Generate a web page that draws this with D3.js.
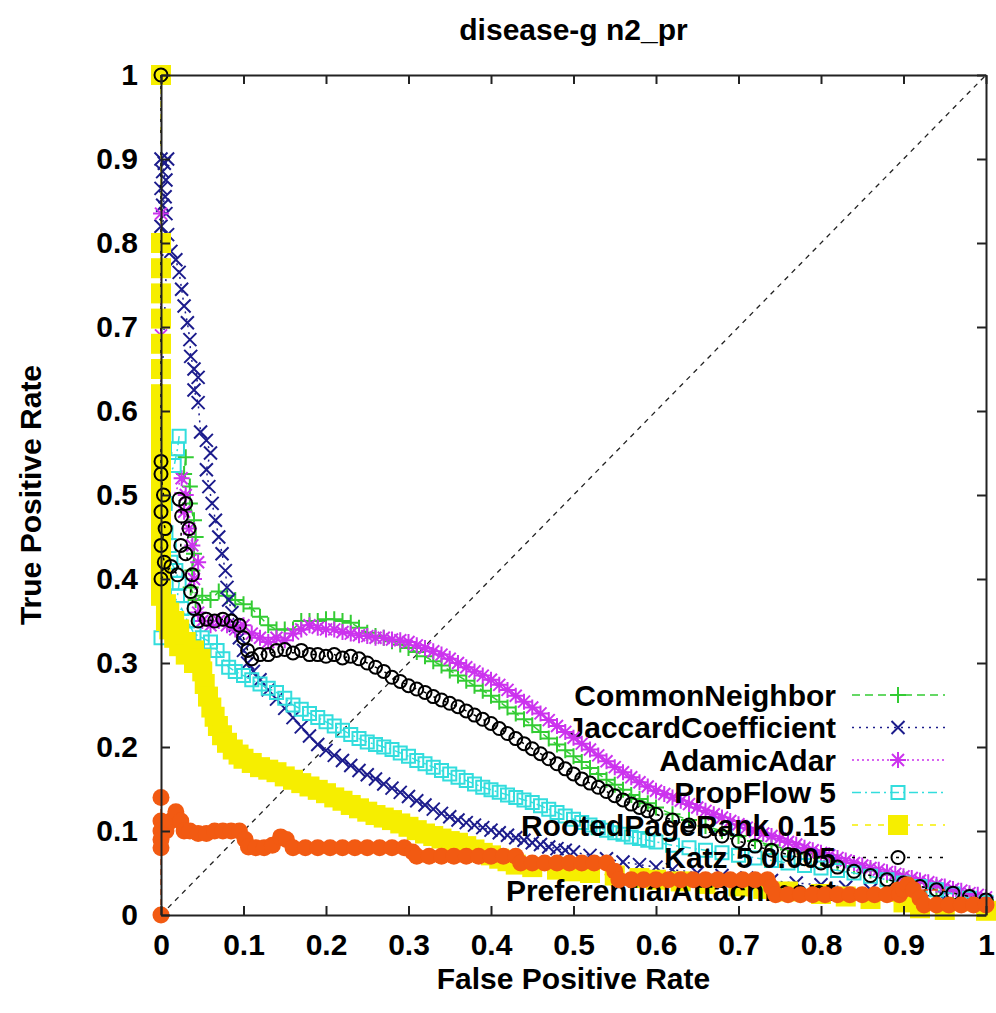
<!DOCTYPE html>
<html>
<head>
<meta charset="utf-8">
<script src="https://cdn.jsdelivr.net/npm/d3@7"></script>
<style>
body { margin: 0; background: #fff; }
svg text { font-family: "Liberation Sans", Arial, Helvetica, sans-serif; font-weight: bold; fill: #000; }
</style>
</head>
<body>
<div id="chart"></div>
<script>
var w = 996,
    h = 1013;

// ---- data ----
var titleText = "disease-g n2_pr";
var xLabel = "False Positive Rate";
var yLabel = "True Positive Rate";

var xTicks = [0, 0.1, 0.2, 0.3, 0.4, 0.5, 0.6, 0.7, 0.8, 0.9, 1];
var xTickLabels = ["0", "0.1", "0.2", "0.3", "0.4", "0.5", "0.6", "0.7", "0.8", "0.9", "1"];
var yTicks = [0, 0.1, 0.2, 0.3, 0.4, 0.5, 0.6, 0.7, 0.8, 0.9, 1];
var yTickLabels = ["0", "0.1", "0.2", "0.3", "0.4", "0.5", "0.6", "0.7", "0.8", "0.9", "1"];

var seriesNames = ["CommonNeighbor", "JaccardCoefficient", "AdamicAdar", "PropFlow 5",
                   "RootedPageRank 0.15", "Katz 5 0.005", "PreferentialAttachment"];

var diagonal = [[0, 0], [1, 1]];

var commonNeighbor = [[0,0.6],[0,0.585],[0,0.565],[0.004,0.55],[0.03,0.545],[0.028,0.525],[0.035,0.51],[0.035,0.49],
  [0.04,0.47],[0.042,0.45],[0.04,0.43],[0.038,0.41],[0.036,0.39],[0.042,0.375],[0.05,0.38],[0.06,0.375],[0.07,0.385],
  [0.08,0.38],[0.09,0.375],[0.1,0.37],[0.11,0.365],[0.12,0.355],[0.13,0.345],[0.14,0.34],[0.15,0.34],[0.16,0.34],
  [0.17,0.35],[0.18,0.35],[0.19,0.35],[0.2,0.352],[0.21,0.352],[0.22,0.35],[0.23,0.348],[0.24,0.342],[0.25,0.336],
  [0.26,0.332],[0.27,0.33],[0.28,0.326],[0.29,0.322],[0.3,0.318],[0.31,0.313],[0.32,0.308],[0.33,0.302],[0.34,0.297],
  [0.35,0.291],[0.36,0.285],[0.37,0.279],[0.38,0.273],[0.39,0.267],[0.4,0.261],[0.41,0.254],[0.42,0.247],[0.43,0.24],
  [0.44,0.233],[0.45,0.226],[0.46,0.218],[0.47,0.21],[0.48,0.203],[0.49,0.196],[0.5,0.189],[0.51,0.182],[0.52,0.175],
  [0.53,0.168],[0.54,0.161],[0.55,0.155],[0.56,0.149],[0.57,0.143],[0.58,0.138],[0.59,0.133],[0.6,0.128],[0.62,0.12],
  [0.64,0.113],[0.66,0.106],[0.68,0.1],[0.7,0.094],[0.72,0.088],[0.74,0.083],[0.76,0.078],[0.78,0.073],[0.8,0.068],
  [0.82,0.063],[0.84,0.058],[0.86,0.053],[0.88,0.048],[0.9,0.043],[0.92,0.038],[0.94,0.033],[0.96,0.028],[0.98,0.023],[1,0.018]];

var jaccardCoefficient = [[0,0.9],[0.004,0.895],[0.008,0.9],[0.002,0.885],[0.006,0.875],[0,0.865],[0.005,0.855],
  [0.002,0.845],[0.006,0.835],[0,0.82],[0.004,0.8],[0,0.77],[0,0.6],[0.008,0.81],[0.012,0.79],[0.018,0.78],[0.022,0.765],
  [0.025,0.745],[0.028,0.725],[0.032,0.705],[0.035,0.685],[0.036,0.665],[0.04,0.65],[0.045,0.64],[0.04,0.625],[0.045,0.61],
  [0.048,0.575],[0.055,0.565],[0.06,0.55],[0.055,0.53],[0.058,0.51],[0.062,0.49],[0.066,0.47],[0.07,0.45],[0.074,0.43],
  [0.078,0.41],[0.08,0.39],[0.082,0.375],[0.086,0.36],[0.09,0.345],[0.095,0.33],[0.1,0.315],[0.105,0.3],[0.112,0.29],
  [0.12,0.28],[0.13,0.268],[0.14,0.257],[0.15,0.246],[0.16,0.235],[0.17,0.224],[0.18,0.213],[0.19,0.203],[0.2,0.196],
  [0.21,0.19],[0.22,0.184],[0.23,0.178],[0.24,0.172],[0.25,0.167],[0.26,0.162],[0.27,0.156],[0.28,0.151],[0.29,0.146],
  [0.3,0.141],[0.31,0.136],[0.32,0.131],[0.33,0.126],[0.34,0.121],[0.35,0.117],[0.36,0.113],[0.37,0.11],[0.38,0.107],
  [0.39,0.104],[0.4,0.101],[0.41,0.098],[0.42,0.095],[0.43,0.092],[0.44,0.089],[0.45,0.086],[0.46,0.084],[0.47,0.081],
  [0.48,0.079],[0.49,0.077],[0.5,0.075],[0.52,0.071],[0.54,0.067],[0.56,0.063],[0.58,0.06],[0.6,0.057],[0.62,0.054],
  [0.65,0.05],[0.68,0.047],[0.71,0.044],[0.74,0.041],[0.77,0.038],[0.8,0.036],[0.83,0.033],[0.86,0.03],[0.89,0.027],
  [0.92,0.024],[0.95,0.021],[0.98,0.018],[1,0.016]];

var adamicAdar = [[0,0.835],[0,0.69],[0,0.505],[0.004,0.485],[0,0.465],[0.025,0.52],[0.03,0.5],[0.028,0.48],[0.034,0.46],
  [0.038,0.44],[0.045,0.42],[0.04,0.4],[0.045,0.36],[0.05,0.35],[0.06,0.345],[0.07,0.35],[0.08,0.345],[0.09,0.34],
  [0.1,0.345],[0.11,0.335],[0.12,0.33],[0.13,0.325],[0.14,0.33],[0.15,0.327],[0.16,0.335],[0.17,0.34],[0.18,0.345],
  [0.19,0.342],[0.2,0.34],[0.21,0.34],[0.22,0.337],[0.23,0.335],[0.24,0.333],[0.25,0.332],[0.26,0.33],[0.27,0.33],
  [0.28,0.328],[0.29,0.327],[0.3,0.325],[0.31,0.321],[0.32,0.318],[0.33,0.314],[0.34,0.31],[0.35,0.305],[0.36,0.3],
  [0.37,0.295],[0.38,0.29],[0.39,0.285],[0.4,0.28],[0.41,0.274],[0.42,0.268],[0.43,0.261],[0.44,0.254],[0.45,0.247],
  [0.46,0.24],[0.47,0.232],[0.48,0.225],[0.49,0.218],[0.5,0.211],[0.51,0.204],[0.52,0.197],[0.53,0.19],[0.54,0.183],
  [0.55,0.176],[0.56,0.17],[0.57,0.164],[0.58,0.158],[0.59,0.153],[0.6,0.148],[0.61,0.144],[0.62,0.14],[0.63,0.136],
  [0.64,0.132],[0.65,0.128],[0.66,0.124],[0.67,0.12],[0.68,0.116],[0.69,0.112],[0.7,0.108],[0.71,0.104],[0.72,0.1],
  [0.73,0.097],[0.74,0.094],[0.75,0.091],[0.76,0.087],[0.77,0.084],[0.78,0.08],[0.79,0.077],[0.8,0.074],[0.81,0.071],
  [0.82,0.068],[0.83,0.065],[0.84,0.062],[0.85,0.059],[0.86,0.056],[0.87,0.054],[0.88,0.051],[0.89,0.049],[0.9,0.046],
  [0.91,0.044],[0.92,0.041],[0.93,0.039],[0.94,0.036],[0.95,0.034],[0.96,0.031],[0.97,0.029],[0.98,0.026],[0.99,0.024],[1,0.021]];

var propFlow = [[0.022,0.57],[0.02,0.555],[0.016,0.535],[0,0.505],[0.005,0.49],[0,0.47],[0.006,0.455],[0.01,0.44],
  [0.012,0.42],[0.018,0.41],[0.022,0.395],[0.02,0.38],[0,0.33],[0.025,0.365],[0.032,0.35],[0.04,0.335],[0.05,0.33],
  [0.06,0.325],[0.068,0.315],[0.075,0.305],[0.082,0.295],[0.09,0.29],[0.1,0.285],[0.11,0.28],[0.12,0.275],[0.13,0.27],
  [0.14,0.265],[0.15,0.258],[0.16,0.25],[0.17,0.245],[0.18,0.24],[0.19,0.235],[0.2,0.23],[0.21,0.225],[0.22,0.22],
  [0.23,0.215],[0.24,0.21],[0.25,0.206],[0.26,0.203],[0.27,0.2],[0.28,0.197],[0.29,0.193],[0.3,0.189],[0.31,0.184],
  [0.32,0.18],[0.33,0.176],[0.34,0.172],[0.35,0.168],[0.36,0.164],[0.37,0.16],[0.38,0.156],[0.39,0.152],[0.4,0.149],
  [0.41,0.146],[0.42,0.143],[0.43,0.14],[0.44,0.137],[0.45,0.134],[0.46,0.13],[0.47,0.126],[0.48,0.122],[0.49,0.118],
  [0.5,0.114],[0.51,0.11],[0.52,0.107],[0.53,0.104],[0.54,0.101],[0.55,0.098],[0.56,0.096],[0.57,0.093],[0.58,0.091],
  [0.59,0.089],[0.6,0.087],[0.62,0.083],[0.64,0.08],[0.66,0.077],[0.68,0.074],[0.7,0.071],[0.72,0.068],[0.74,0.065],
  [0.76,0.062],[0.78,0.059],[0.8,0.056],[0.82,0.053],[0.84,0.05],[0.86,0.046],[0.88,0.042],[0.9,0.038],[0.92,0.034],
  [0.94,0.03],[0.96,0.025],[0.98,0.02],[1,0.015]];

var rootedPageRank = [[0,1],[0,0.8],[0,0.77],[0,0.74],[0,0.71],[0,0.68],[0,0.65],[0,0.62],[0,0.6],[0,0.58],[0,0.56],
  [0,0.54],[0,0.52],[0,0.5],[0,0.48],[0,0.46],[0,0.44],[0,0.42],[0,0.4],[0,0.38],[0.006,0.37],[0.006,0.35],[0.01,0.36],
  [0.01,0.34],[0.016,0.35],[0.016,0.33],[0.022,0.34],[0.022,0.32],[0.03,0.325],[0.03,0.31],[0.04,0.315],[0.04,0.3],
  [0.048,0.305],[0.05,0.29],[0.053,0.275],[0.057,0.26],[0.061,0.247],[0.065,0.236],[0.069,0.225],[0.074,0.214],
  [0.08,0.205],[0.087,0.197],[0.094,0.191],[0.1,0.186],[0.11,0.181],[0.12,0.176],[0.13,0.173],[0.14,0.17],[0.15,0.165],
  [0.16,0.161],[0.17,0.157],[0.18,0.153],[0.19,0.149],[0.2,0.145],[0.21,0.14],[0.22,0.136],[0.23,0.131],[0.24,0.127],
  [0.25,0.123],[0.26,0.119],[0.27,0.116],[0.28,0.113],[0.29,0.109],[0.3,0.105],[0.31,0.101],[0.32,0.097],[0.33,0.094],
  [0.34,0.091],[0.35,0.088],[0.36,0.086],[0.37,0.082],[0.38,0.078],[0.39,0.074],[0.4,0.071],[0.41,0.067],[0.42,0.064],
  [0.43,0.06],[0.45,0.057],[0.48,0.054],[0.5,0.052],[0.52,0.05],[0.55,0.047],[0.58,0.044],[0.6,0.042],[0.63,0.04],
  [0.66,0.037],[0.7,0.034],[0.73,0.031],[0.76,0.028],[0.8,0.025],[0.83,0.022],[0.86,0.019],[0.9,0.015],[0.92,0.008],
  [0.95,0.006],[1,0.005]];

var katz = [[0,1],[0,0.54],[0,0.525],[0.003,0.5],[0,0.48],[0.005,0.46],[0,0.44],[0.004,0.42],[0,0.4],[0.012,0.415],
  [0.02,0.405],[0.024,0.44],[0.025,0.475],[0.022,0.495],[0.03,0.49],[0.034,0.46],[0.03,0.43],[0.038,0.405],[0.036,0.385],
  [0.04,0.365],[0.045,0.35],[0.055,0.352],[0.065,0.35],[0.075,0.352],[0.085,0.35],[0.095,0.345],[0.1,0.33],[0.105,0.315],
  [0.11,0.305],[0.12,0.31],[0.13,0.31],[0.14,0.315],[0.15,0.316],[0.16,0.312],[0.17,0.315],[0.18,0.31],[0.19,0.31],
  [0.2,0.308],[0.21,0.31],[0.22,0.306],[0.23,0.308],[0.24,0.305],[0.25,0.3],[0.26,0.295],[0.27,0.29],[0.28,0.283],
  [0.29,0.278],[0.3,0.273],[0.31,0.269],[0.32,0.265],[0.33,0.26],[0.34,0.256],[0.35,0.252],[0.36,0.248],[0.37,0.243],
  [0.38,0.238],[0.39,0.233],[0.4,0.228],[0.41,0.222],[0.42,0.216],[0.43,0.21],[0.44,0.204],[0.45,0.198],[0.46,0.192],
  [0.47,0.186],[0.48,0.18],[0.49,0.174],[0.5,0.168],[0.51,0.162],[0.52,0.157],[0.53,0.152],[0.54,0.147],[0.55,0.142],
  [0.56,0.137],[0.57,0.132],[0.58,0.128],[0.59,0.124],[0.6,0.12],[0.62,0.113],[0.64,0.107],[0.66,0.1],[0.68,0.094],
  [0.7,0.088],[0.72,0.082],[0.74,0.077],[0.76,0.072],[0.78,0.067],[0.8,0.062],[0.82,0.057],[0.84,0.052],[0.86,0.047],
  [0.88,0.042],[0.9,0.038],[0.92,0.034],[0.94,0.03],[0.96,0.026],[0.98,0.022],[1,0.018]];

var preferentialAttachment = [[0,0],[0,0.14],[0,0.112],[0,0.1],[0,0.09],[0,0.08],[0.006,0.1],[0.012,0.112],[0.018,0.123],
  [0.024,0.112],[0.028,0.1],[0.035,0.1],[0.045,0.097],[0.055,0.097],[0.065,0.1],[0.075,0.1],[0.085,0.1],[0.095,0.1],
  [0.102,0.09],[0.106,0.081],[0.115,0.08],[0.125,0.08],[0.135,0.083],[0.145,0.093],[0.152,0.09],[0.16,0.08],[0.175,0.08],
  [0.19,0.08],[0.205,0.08],[0.22,0.08],[0.235,0.08],[0.25,0.08],[0.265,0.08],[0.28,0.08],[0.295,0.08],[0.305,0.075],
  [0.31,0.07],[0.325,0.07],[0.34,0.07],[0.355,0.07],[0.37,0.07],[0.385,0.07],[0.4,0.07],[0.415,0.07],[0.43,0.07],
  [0.436,0.062],[0.45,0.062],[0.465,0.062],[0.48,0.062],[0.495,0.062],[0.51,0.062],[0.525,0.062],[0.54,0.062],
  [0.55,0.052],[0.555,0.042],[0.57,0.042],[0.585,0.042],[0.6,0.042],[0.615,0.042],[0.63,0.042],[0.645,0.042],
  [0.66,0.042],[0.675,0.042],[0.69,0.042],[0.705,0.042],[0.72,0.042],[0.735,0.042],[0.74,0.033],[0.745,0.024],
  [0.76,0.024],[0.775,0.024],[0.79,0.024],[0.805,0.024],[0.82,0.024],[0.835,0.024],[0.85,0.024],[0.865,0.024],
  [0.88,0.024],[0.895,0.024],[0.9,0.03],[0.905,0.036],[0.912,0.03],[0.92,0.02],[0.925,0.012],[0.94,0.012],
  [0.955,0.012],[0.97,0.012],[0.985,0.012],[1,0.012]];

var allSeries = [commonNeighbor, jaccardCoefficient, adamicAdar, propFlow,
                 rootedPageRank, katz, preferentialAttachment];

// ---- styles ----
var colors = ["#33cc33", "#1c1c8c", "#cc33ee", "#33dddd", "#f6ee00", "#000000", "#f25a12"];
var dashes = ["8,5", "2,5", "2,3", "9,4,2,4", "6,7", "3,8", "6,4"];
var markers = ["plus", "times", "star", "square", "fsquare", "circle", "fcircle"];

// ---- layout ----
var plotL = 161, plotR = 986, plotT = 75, plotB = 915;

var svg = d3.select("#chart")
            .append("svg")
            .attr("width", w)
            .attr("height", h);

svg.append("rect")
   .attr("width", w)
   .attr("height", h)
   .attr("fill", "#fff");

var x = d3.scaleLinear().domain([0, 1]).range([plotL, plotR]);
var y = d3.scaleLinear().domain([0, 1]).range([plotB, plotT]);

function markerPath(type) {
  var s;
  if (type == "plus") {
    s = 8;
    return "M" + (-s) + ",0H" + s + "M0," + (-s) + "V" + s;
  }
  if (type == "times") {
    s = 6.5;
    return "M" + (-s) + "," + (-s) + "L" + s + "," + s + "M" + (-s) + "," + s + "L" + s + "," + (-s);
  }
  if (type == "star") {
    s = 8;
    var t = 6;
    return "M" + (-s) + ",0H" + s + "M0," + (-s) + "V" + s +
           "M" + (-t) + "," + (-t) + "L" + t + "," + t + "M" + (-t) + "," + t + "L" + t + "," + (-t);
  }
  if (type == "square") {
    s = 6.5;
    return "M" + (-s) + "," + (-s) + "H" + s + "V" + s + "H" + (-s) + "Z";
  }
  if (type == "fsquare") {
    s = 10;
    return "M" + (-s) + "," + (-s) + "H" + s + "V" + s + "H" + (-s) + "Z";
  }
  if (type == "circle") {
    s = 6.5;
  } else {
    s = 8.5;
  }
  return "M" + s + ",0A" + s + "," + s + " 0 1,1 " + (-s) + ",0A" + s + "," + s + " 0 1,1 " + s + ",0Z";
}

function isFilled(type) {
  return type == "fsquare" || type == "fcircle";
}

// diagonal reference line
var line = d3.line()
             .x(function(d) { return x(d[0]); })
             .y(function(d) { return y(d[1]); });

svg.append("path")
   .datum(diagonal)
   .attr("d", line)
   .attr("fill", "none")
   .attr("stroke", "#222")
   .attr("stroke-width", 1.3)
   .attr("stroke-dasharray", "5,5");

// legend entry, then the curve, in gnuplot order
var legendX = 836,
    legendY0 = 695,
    legendStep = 32.5;

allSeries.forEach(function(data, i) {
  var col = colors[i];
  var mk = markers[i];
  var ly = legendY0 + i * legendStep;

  var key = svg.append("g").attr("class", "key");
  key.append("text")
     .attr("x", legendX)
     .attr("y", ly)
     .attr("dy", "0.36em")
     .attr("text-anchor", "end")
     .attr("font-size", "30px")
     .text(seriesNames[i]);
  key.append("line")
     .attr("x1", 852)
     .attr("x2", 945)
     .attr("y1", ly)
     .attr("y2", ly)
     .attr("stroke", col)
     .attr("stroke-width", 1.5)
     .attr("stroke-dasharray", dashes[i]);
  key.append("path")
     .attr("d", markerPath(mk))
     .attr("transform", "translate(898," + ly + ")")
     .attr("fill", isFilled(mk) ? col : "none")
     .attr("stroke", isFilled(mk) ? "none" : col)
     .attr("stroke-width", 2);

  var g = svg.append("g").attr("class", "series");
  g.append("path")
   .datum(data)
   .attr("d", line)
   .attr("fill", "none")
   .attr("stroke", col)
   .attr("stroke-width", 1.5)
   .attr("stroke-dasharray", dashes[i]);

  g.selectAll("path.pt")
   .data(data)
   .enter()
   .append("path")
   .attr("class", "pt")
   .attr("d", markerPath(mk))
   .attr("transform", function(d) {
     return "translate(" + x(d[0]) + "," + y(d[1]) + ")";
   })
   .attr("fill", isFilled(mk) ? col : "none")
   .attr("stroke", isFilled(mk) ? "none" : col)
   .attr("stroke-width", 2);
});

// ---- axes (border in front) ----
var xAxis = d3.axisBottom(x)
              .tickValues(xTicks)
              .tickFormat(function(d, i) { return xTickLabels[i]; })
              .tickSizeInner(-9)
              .tickSizeOuter(0)
              .tickPadding(19);

var yAxis = d3.axisLeft(y)
              .tickValues(yTicks)
              .tickFormat(function(d, i) { return yTickLabels[i]; })
              .tickSizeInner(-9)
              .tickSizeOuter(0)
              .tickPadding(23);

var gx = svg.append("g")
            .attr("transform", "translate(0," + plotB + ")")
            .call(xAxis);
var gy = svg.append("g")
            .attr("transform", "translate(" + plotL + ",0)")
            .call(yAxis);
var gt = svg.append("g")
            .attr("transform", "translate(0," + plotT + ")")
            .call(d3.axisTop(x).tickValues(xTicks).tickFormat("").tickSizeInner(-9).tickSizeOuter(0));
var gr = svg.append("g")
            .attr("transform", "translate(" + plotR + ",0)")
            .call(d3.axisRight(y).tickValues(yTicks).tickFormat("").tickSizeInner(-9).tickSizeOuter(0));

[gx, gy, gt, gr].forEach(function(g) {
  g.selectAll(".domain").attr("stroke", "#222").attr("stroke-width", 2);
  g.selectAll(".tick line").attr("stroke", "#222").attr("stroke-width", 2);
  g.selectAll(".tick text")
   .attr("font-size", "30px")
   .attr("fill", "#000");
  g.attr("font-family", null).attr("font-size", null);
});

// ---- titles ----
svg.append("text")
   .attr("x", (plotL + plotR) / 2)
   .attr("y", 40)
   .attr("text-anchor", "middle")
   .attr("font-size", "30px")
   .text(titleText);

svg.append("text")
   .attr("x", (plotL + plotR) / 2)
   .attr("y", 989)
   .attr("text-anchor", "middle")
   .attr("font-size", "30px")
   .text(xLabel);

svg.append("text")
   .attr("transform", "translate(41," + (plotT + plotB) / 2 + ") rotate(-90)")
   .attr("text-anchor", "middle")
   .attr("font-size", "30px")
   .text(yLabel);
</script>
</body>
</html>
